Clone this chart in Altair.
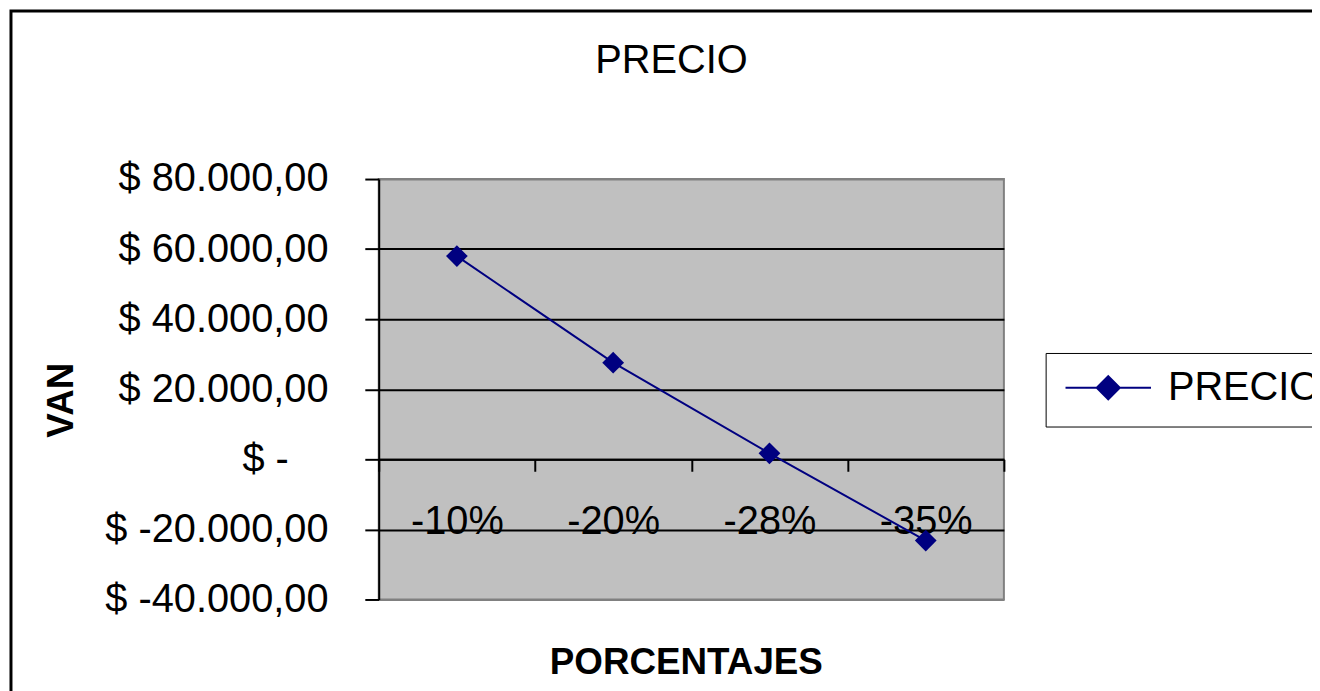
import altair as alt
import pandas as pd

categories = ["-10%", "-20%", "-28%", "-35%"]
van = [58000, 27600, 1700, -23200]
series = ["PRECIO", "PRECIO", "PRECIO", "PRECIO"]
y_ticks = [-40000, -20000, 0, 20000, 40000, 60000, 80000]

df = pd.DataFrame({"PORCENTAJES": categories, "VAN": van, "serie": series})

FONT = "Liberation Sans"
NAVY = "#000080"

x_enc = alt.X(
    "PORCENTAJES:N",
    sort=categories,
    bandPosition=0.5,
    scale=alt.Scale(type="band", paddingInner=0, paddingOuter=0),
    axis=alt.Axis(
        orient="bottom", offset=-141, grid=False,
        domainColor="black", domainWidth=2,
        ticks=True, tickBand="extent", tickSize=12, tickWidth=2, tickColor="black",
        labelFont=FONT, labelFontSize=40, labelColor="black", labelAngle=0,
        labelBaseline="middle", labelPadding=51, labelLimit=0,
        title="PORCENTAJES", titleFont=FONT, titleFontSize=37, titleFontWeight="bold",
        titleColor="black", titleX=309, titleY=204, titleAlign="center", titleBaseline="middle",
    ),
)

y_enc = alt.Y(
    "VAN:Q",
    scale=alt.Scale(domain=[-40000, 80000], nice=False, zero=False),
    axis=alt.Axis(
        values=y_ticks,
        labelExpr=("datum.value == 0 ? '$ -' : '$ ' + (datum.value < 0 ? '-' : '') "
                   "+ format(abs(datum.value) / 1000, 'd') + '.000,00'"),
        labelFont=FONT, labelFontSize=40, labelColor="black", labelLimit=0,
        labelPadding={"condition": {"test": "datum.value == 0", "value": 77}, "value": 37},
        tickSize=14, tickWidth=2, tickColor="black",
        domainColor="black", domainWidth=2,
        grid=True, gridWidth=2,
        gridColor={"condition": {"test": "datum.value == 80000 || datum.value == -40000",
                                 "value": "#808080"}, "value": "black"},
        title="VAN", titleFont=FONT, titleFontSize=37, titleFontWeight="bold",
        titleColor="black", titleAngle=270, titleX=-319, titleY=222,
        titleAlign="center", titleBaseline="middle",
    ),
)

legend_symbol = "M-1,0L1,0M0,-0.27L0.27,0L0,0.27L-0.27,0Z"

line = alt.Chart(df).mark_line(strokeWidth=2).encode(
    x=x_enc,
    y=y_enc,
    color=alt.Color(
        "serie:N",
        scale=alt.Scale(range=[NAVY]),
        legend=alt.Legend(
            title=None, orient="none", legendX=671, legendY=175,
            strokeColor="black", fillColor="white", padding=19,
            symbolType=legend_symbol, symbolSize=7396,
            symbolFillColor=NAVY, symbolStrokeColor=NAVY, symbolStrokeWidth=2,
            labelFont=FONT, labelFontSize=40, labelColor="black",
            labelOffset=16, labelLimit=400, clipHeight=32,
        ),
    ),
)

points = alt.Chart(df).mark_point(shape="diamond", filled=True, size=480, color=NAVY, opacity=1).encode(
    x=x_enc, y=y_enc
)

frame = alt.Chart(pd.DataFrame({"f": [0]})).mark_rect(
    fillOpacity=0, stroke="black", strokeWidth=3
).encode(
    x=alt.value(-370), x2=alt.value(960), y=alt.value(-169), y2=alt.value(530)
)

chart = alt.layer(frame, line, points).properties(
    width=629,
    height=423,
    background="white",
    autosize=alt.AutoSizeParams(type="none"),
    padding={"left": 373, "top": 170, "right": 310, "bottom": 90},
    title=alt.TitleParams("PRECIO", font=FONT, fontSize=40, fontWeight="normal",
                          color="black", anchor="middle", dx=-20, offset=-72),
).configure_view(
    fill="#C0C0C0", stroke="#808080", strokeWidth=2
)

chart.save("out.html", embed_options={"renderer": "svg", "actions": False})
